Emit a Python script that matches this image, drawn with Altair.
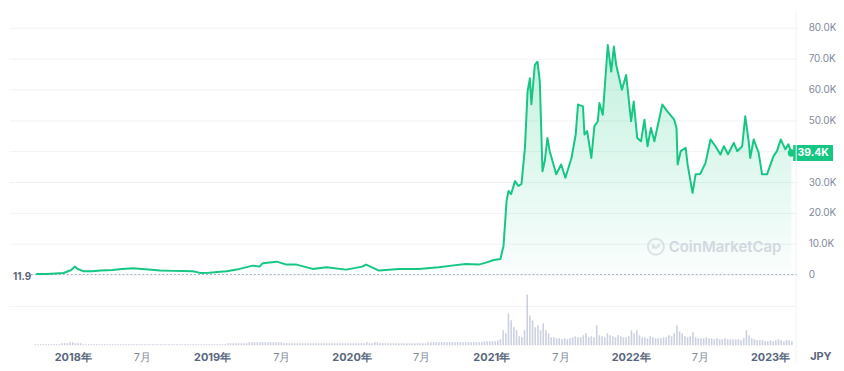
import altair as alt
import pandas as pd

# ---------------- data ----------------
price_dates = [
    "2017-09-27", "2017-10-25", "2017-12-08", "2017-12-28", "2018-01-06", "2018-01-14",
    "2018-01-30", "2018-02-20", "2018-03-15", "2018-04-15", "2018-05-10", "2018-06-08",
    "2018-07-10", "2018-08-18", "2018-09-20", "2018-10-15", "2018-11-12", "2018-11-30",
    "2018-12-25", "2019-01-15", "2019-02-08", "2019-03-14", "2019-04-17", "2019-05-05",
    "2019-05-13", "2019-06-19", "2019-07-15", "2019-08-10", "2019-09-21", "2019-10-27",
    "2019-12-18", "2020-01-29", "2020-02-08", "2020-03-13", "2020-05-04", "2020-06-25",
    "2020-08-16", "2020-09-19", "2020-10-26", "2020-11-29", "2020-12-20", "2021-01-07",
    "2021-01-25", "2021-02-02", "2021-02-10", "2021-02-15", "2021-02-22", "2021-03-04",
    "2021-03-13", "2021-03-21", "2021-03-30", "2021-04-06", "2021-04-12", "2021-04-16",
    "2021-04-25", "2021-05-02", "2021-05-08", "2021-05-15", "2021-05-21", "2021-05-28",
    "2021-06-03", "2021-06-20", "2021-07-03", "2021-07-14", "2021-07-30", "2021-08-10",
    "2021-08-16", "2021-08-29", "2021-09-02", "2021-09-09", "2021-09-20", "2021-09-28",
    "2021-10-07", "2021-10-11", "2021-10-20", "2021-11-02", "2021-11-11", "2021-11-18",
    "2021-11-24", "2021-11-28", "2021-12-09", "2021-12-20", "2022-01-02", "2022-01-09",
    "2022-01-18", "2022-01-28", "2022-02-06", "2022-02-14", "2022-02-23", "2022-03-04",
    "2022-03-25", "2022-04-07", "2022-04-25", "2022-05-01", "2022-05-04", "2022-05-12",
    "2022-05-25", "2022-05-30", "2022-06-12", "2022-06-20", "2022-07-02", "2022-07-16",
    "2022-07-29", "2022-08-11", "2022-08-24", "2022-09-02", "2022-09-13", "2022-09-28",
    "2022-10-07", "2022-10-20", "2022-10-28", "2022-11-06", "2022-11-10", "2022-11-19",
    "2022-12-02", "2022-12-11", "2022-12-24", "2023-01-10", "2023-01-19", "2023-01-29",
    "2023-02-10", "2023-02-18", "2023-02-26",
]
price_values = [
    150, 200, 500, 1500, 2580, 1800,
    1060, 1100, 1290, 1500, 1800, 2030,
    1700, 1290, 1200, 1150, 1060, 550,
    600, 800, 1060, 1840, 2900, 2580,
    3650, 4190, 3230, 3230, 1840, 2350,
    1610, 2580, 3230, 1290, 1840, 1840,
    2350, 2900, 3450, 3230, 3970, 4740,
    5050, 9360, 23900, 27100, 26100, 30300,
    28700, 29400, 41000, 59400, 63600, 55200,
    68000, 69000, 62600, 33500, 36800, 44300,
    40000, 32500, 35700, 31400, 37800, 45400,
    55100, 54500, 45400, 46500, 37800, 48100,
    49700, 55600, 51800, 74400, 65800, 73900,
    68000, 65800, 59900, 64700, 49700, 56100,
    44300, 43200, 50200, 41600, 47500, 43200,
    55100, 52900, 50200, 47500, 35700, 40000,
    41100, 35700, 26500, 32500, 32600, 36200,
    43800, 41600, 38900, 41600, 39000, 42700,
    40000, 41600, 51300, 43200, 37800, 43800,
    39500, 32500, 32500, 38400, 40000, 43800,
    40600, 42200, 39400,
]

# weekly volume (relative units), weeks starting 2017-09-25
vol_2017 = [1, 1, 1, 1, 1, 1, 1, 1, 1, 1, 2, 2, 2, 3]
vol_2018 = [3, 2, 2, 2, 1, 1, 1, 1, 1, 1,
            1, 1, 1, 1, 1, 1, 1, 1, 1, 1,
            1, 1, 1, 1, 1, 1, 1, 1, 1, 1,
            1, 1, 1, 1, 1, 1, 1, 1, 1, 1,
            1, 1, 1, 1, 1, 1, 1, 1, 1, 1,
            1, 1, 1]
vol_2019 = [1, 1, 1, 1, 1, 2, 2, 2, 2, 2,
            2, 2, 2, 3, 3, 3, 3, 3, 3, 3,
            3, 3, 3, 3, 3, 3, 2, 2, 2, 2,
            2, 2, 2, 2, 2, 2, 2, 2, 2, 2,
            2, 2, 2, 2, 2, 2, 2, 2, 2, 2,
            2, 2]
vol_2020 = [2, 2, 2, 2, 2, 3, 2, 2, 3, 3,
            2, 2, 2, 2, 2, 2, 2, 2, 2, 2,
            2, 2, 2, 2, 2, 2, 2, 2, 3, 3,
            3, 3, 3, 3, 3, 3, 3, 3, 3, 3,
            3, 3, 3, 3, 3, 3, 3, 3, 3, 4,
            4, 4]
vol_2021 = [4, 4, 5, 6, 15, 12, 32, 25, 18, 15,
            9, 8, 15, 51, 30, 25, 18, 20, 15, 22,
            15, 12, 8, 8, 7, 7, 6, 7, 6, 7,
            8, 9, 8, 8, 10, 12, 8, 9, 8, 20,
            10, 9, 8, 12, 10, 9, 8, 10, 9, 8,
            8, 9]
vol_2022 = [15, 12, 15, 10, 8, 8, 7, 9, 8, 7,
            7, 7, 8, 8, 10, 9, 12, 20, 14, 12,
            9, 8, 9, 13, 8, 7, 7, 7, 8, 7,
            7, 6, 7, 6, 6, 7, 6, 6, 6, 6,
            6, 5, 7, 15, 10, 7, 6, 5, 5, 5,
            4, 4]
vol_2023 = [5, 4, 5, 6, 5, 4, 5, 5, 4]
vol_values = vol_2017 + vol_2018 + vol_2019 + vol_2020 + vol_2021 + vol_2022 + vol_2023

y_ticks = [0, 10000, 20000, 30000, 40000, 50000, 60000, 70000, 80000]
x_ticks = [(2018, 1), (2018, 7), (2019, 1), (2019, 7), (2020, 1), (2020, 7),
           (2021, 1), (2021, 7), (2022, 1), (2022, 7), (2023, 1)]
start_price = 11.9
start_label = "11.9"
last_label = "39.4K"
currency = "JPY"
watermark = "CoinMarketCap"

# ---------------- chart ----------------
W, H = 792, 335
GREEN = "#16c784"
GREY = "#58667e"
LIGHT = "#808a9d"
FONT = "Inter"

Y_MIN, Y_MAX = -22900, 85160          # price domain
VOL_UNIT = (Y_MAX - Y_MIN) / H         # volume pane shares the price scale

price_df = pd.DataFrame({"date": pd.to_datetime(price_dates), "price": price_values})
vol_df = pd.DataFrame({
    "date": pd.date_range("2017-09-25", periods=len(vol_values), freq="7D"),
    "vol": vol_values,
})
last_df = price_df.tail(1)

x_scale = alt.Scale(domain=[alt.DateTime(year=2017, month=7, date=18),
                            alt.DateTime(year=2023, month=3, date=13)],
                    nice=False, padding=0)
y_scale = alt.Scale(domain=[Y_MIN, Y_MAX], nice=False, zero=False, padding=0)

x_axis = alt.Axis(
    values=[alt.DateTime(year=y, month=m, date=1) for y, m in x_ticks],
    labelExpr="month(datum.value) == 0 ? timeFormat(datum.value, '%Y') + '年' : (month(datum.value) + 1) + '月'",
    labelFontWeight={"condition": {"test": "month(datum.value) == 0", "value": "bold"}, "value": "normal"},
    labelColor={"condition": {"test": "month(datum.value) == 0", "value": GREY}, "value": LIGHT},
    labelFontSize=11, labelPadding=6, domain=False, ticks=False, grid=False, title=None,
    labelFont=FONT,
)
# the 40.0K label sits under the current-price badge in the reference
y_axis = alt.Axis(
    orient="right", values=y_ticks,
    labelExpr="datum.value == 0 ? '0' : (datum.value == 40000 ? '' : format(datum.value / 1000, '.1f') + 'K')",
    labelColor=LIGHT, labelFontSize=10, labelPadding=11, domain=False, ticks=False,
    gridColor="#f0f2f5", title=None, labelFont=FONT,
)

XA = alt.X("date:T", scale=x_scale, axis=x_axis)
XS = alt.X("date:T", scale=x_scale)
YP = alt.Y("price:Q", scale=y_scale)

area = alt.Chart(price_df).mark_area(
    color=alt.Gradient(
        gradient="linear",
        stops=[alt.GradientStop(color="rgba(22,199,132,0.26)", offset=0),
               alt.GradientStop(color="rgba(22,199,132,0.02)", offset=1)],
        x1=0, x2=0, y1=0, y2=1,
    )
).encode(
    x=XA,
    y=alt.Y("price:Q", scale=y_scale, axis=y_axis),
    y2=alt.datum(0),
)

vol_bars = alt.Chart(vol_df).transform_calculate(
    vtop=f"{Y_MIN} + datum.vol * {VOL_UNIT}"
).mark_bar(size=1.6, color="#c3c9dc", opacity=0.85).encode(
    x=XS, y=alt.Y("vtop:Q", scale=y_scale), y2=alt.datum(Y_MIN)
)
vol_grid = alt.Chart(last_df).mark_rule(color="#f0f2f5").encode(
    y=alt.datum(Y_MIN + 39 * VOL_UNIT), x=alt.value(0), x2=alt.value(W)
)

start_rule = alt.Chart(last_df).mark_rule(color="#a6b0c3", strokeDash=[2, 2], strokeWidth=1).encode(
    y=alt.datum(start_price), x=alt.value(22), x2=alt.value(W)
)
start_text = alt.Chart(last_df).mark_text(
    align="left", baseline="middle", fontSize=10, fontWeight="bold", color=GREY, font=FONT, dy=2
).encode(x=alt.value(4), y=alt.datum(start_price), text=alt.value(start_label))

line = alt.Chart(price_df).mark_line(color=GREEN, strokeWidth=2, strokeJoin="round").encode(
    x=XS, y=YP
)
dot = alt.Chart(last_df).mark_circle(color=GREEN, size=55, opacity=1).encode(x=XS, y=YP)

box = alt.Chart(last_df).transform_calculate(
    hi="datum.price + 2580", lo="datum.price - 2580"
).mark_rect(color=GREEN).encode(
    x=alt.value(788), x2=alt.value(828),
    y=alt.Y("hi:Q", scale=y_scale), y2="lo:Q",
)
box_text = alt.Chart(last_df).mark_text(
    color="white", fontSize=10.5, fontWeight="bold", font=FONT, align="center", baseline="middle"
).encode(x=alt.value(808), y=YP, text=alt.value(last_label))

logo_ring = alt.Chart(last_df).mark_point(
    shape="circle", filled=False, size=260, strokeWidth=2, color="#d3d7df"
).encode(x=alt.value(650), y=alt.value(236))
logo_m = alt.Chart(last_df).mark_point(
    shape="M -0.6 0.45 L -0.6 -0.25 L 0 0.3 L 0.6 -0.3 L 0.6 0.1", filled=False,
    size=90, strokeWidth=2, color="#d3d7df"
).encode(x=alt.value(650), y=alt.value(236))
wm_text = alt.Chart(last_df).mark_text(
    align="left", baseline="middle", fontSize=15, fontWeight=600, color="#d3d7df", font=FONT
).encode(x=alt.value(663), y=alt.value(236), text=alt.value(watermark))

jpy = alt.Chart(last_df).mark_text(
    align="left", baseline="top", fontSize=11, fontWeight="bold", color=GREY, font=FONT
).encode(x=alt.value(805), y=alt.value(H + 6), text=alt.value(currency))

edge = alt.Chart(last_df).mark_rule(color="#f2f3f6").encode(
    x=alt.value(791), y=alt.value(0), y2=alt.value(H + 18)
)

chart = alt.layer(
    area, vol_grid, vol_bars, start_rule, start_text, line, dot, box, box_text,
    logo_ring, logo_m, wm_text, jpy, edge,
).properties(
    width=W, height=H,
    padding={"left": 0, "top": 2, "right": 0, "bottom": 0},
).configure(font=FONT, background="white").configure_view(stroke=None)

chart.save("out.html", embed_options={"renderer": "svg", "actions": False})
